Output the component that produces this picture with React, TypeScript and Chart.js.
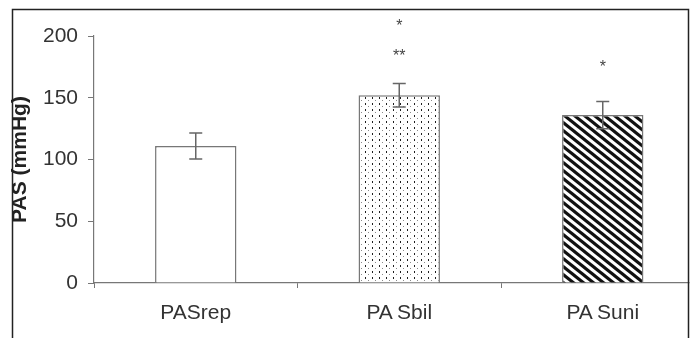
import React, { useEffect, useRef } from "react";
import { Chart, registerables } from "chart.js";

Chart.register(...registerables);

// ---- data ----
const categories = ["PASrep", "PA\u2009Sbil", "PA\u2009Suni"];
const meanValues = [111, 152, 136];
const errorValues = [10.5, 9.5, 11];
const yTickValues = [0, 50, 100, 150, 200];
const yAxisTitle = "PAS (mmHg)";
const sigCategoryIndex = [1, 1, 2];
const sigTexts = ["*", "**", "*"];
const sigValues = [211, 187, 178];

const FONT = "'Liberation Sans', Arial, Helvetica, sans-serif";

function makeDotPattern(): CanvasPattern | string {
  const c = document.createElement("canvas");
  c.width = 7;
  c.height = 6;
  const g = c.getContext("2d");
  if (!g) return "#fff";
  g.fillStyle = "#fff";
  g.fillRect(0, 0, 7, 6);
  g.fillStyle = "#1e1e1e";
  g.fillRect(1, 1, 1, 2);
  g.fillStyle = "#8a8a8a";
  g.fillRect(4, 4, 1, 1);
  return g.createPattern(c, "repeat") || "#fff";
}

function makeStripePattern(): CanvasPattern | string {
  const w = 10;
  const h = 8;
  const c = document.createElement("canvas");
  c.width = w;
  c.height = h;
  const g = c.getContext("2d");
  if (!g) return "#000";
  g.fillStyle = "#fff";
  g.fillRect(0, 0, w, h);
  g.strokeStyle = "#111";
  g.lineWidth = 3.2;
  for (const off of [-w, 0, w]) {
    g.beginPath();
    g.moveTo(off - 2 * w, -2 * h);
    g.lineTo(off + 3 * w, 3 * h);
    g.stroke();
  }
  return g.createPattern(c, "repeat") || "#000";
}

const overlayPlugin = {
  id: "overlayMarks",
  afterDatasetsDraw(chart: any) {
    const ctx = chart.ctx;
    const yScale = chart.scales.y;
    const meta = chart.getDatasetMeta(0);
    ctx.save();
    ctx.strokeStyle = "#666";
    ctx.lineWidth = 1.5;
    meanValues.forEach((v, i) => {
      const cx = meta.data[i].x;
      const top = yScale.getPixelForValue(v + errorValues[i]);
      const bot = yScale.getPixelForValue(v - errorValues[i]);
      ctx.beginPath();
      ctx.moveTo(cx, top);
      ctx.lineTo(cx, bot);
      ctx.moveTo(cx - 6.5, top);
      ctx.lineTo(cx + 6.5, top);
      ctx.moveTo(cx - 6.5, bot);
      ctx.lineTo(cx + 6.5, bot);
      ctx.stroke();
    });
    ctx.fillStyle = "#444";
    ctx.font = `16px ${FONT}`;
    ctx.textAlign = "center";
    ctx.textBaseline = "alphabetic";
    sigTexts.forEach((t, k) => {
      const cx = meta.data[sigCategoryIndex[k]].x;
      const cy = yScale.getPixelForValue(sigValues[k]);
      ctx.fillText(t, cx, cy + 8.5);
    });
    ctx.restore();
  },
  afterDraw(chart: any) {
    const ctx = chart.ctx;
    ctx.save();
    ctx.fillStyle = "#fff";
    ctx.fillRect(689.5, 0, chart.width, chart.height);
    ctx.strokeStyle = "#222";
    ctx.lineWidth = 1.5;
    ctx.beginPath();
    ctx.moveTo(12.5, chart.height + 2);
    ctx.lineTo(12.5, 9.5);
    ctx.lineTo(688.5, 9.5);
    ctx.lineTo(688.5, chart.height + 2);
    ctx.stroke();
    ctx.restore();
  },
};

export default function App() {
  const ref = useRef<HTMLCanvasElement | null>(null);

  useEffect(() => {
    if (!ref.current) return;
    const chart = new Chart(ref.current, {
      type: "bar",
      data: {
        labels: categories,
        datasets: [
          {
            data: meanValues,
            backgroundColor: ["#ffffff", makeDotPattern(), makeStripePattern()] as any,
            borderColor: "#777",
            borderWidth: 1.5,
            categoryPercentage: 1,
            barPercentage: 0.4,
          },
        ],
      },
      options: {
        animation: false,
        responsive: false,
        devicePixelRatio: 1,
        layout: { padding: { left: 8, top: 36, right: 1.5, bottom: 0 } },
        plugins: {
          legend: { display: false },
          tooltip: { enabled: false },
        },
        scales: {
          x: {
            grid: {
              offset: true,
              drawOnChartArea: false,
              drawTicks: true,
              tickLength: 5,
              color: "#777",
            },
            border: { color: "#777", width: 1.2 },
            ticks: {
              color: "#333",
              font: { family: FONT, size: 21 },
              padding: 13,
            },
            afterFit(scale: any) {
              scale.height = 55;
            },
          },
          y: {
            min: yTickValues[0],
            max: yTickValues[yTickValues.length - 1],
            afterBuildTicks(scale: any) {
              scale.ticks = yTickValues.map((v) => ({ value: v }));
            },
            grid: {
              drawOnChartArea: false,
              drawTicks: true,
              tickLength: 6,
              color: "#777",
            },
            border: { color: "#777", width: 1.2 },
            ticks: {
              color: "#333",
              font: { family: FONT, size: 21 },
              padding: 10,
            },
            title: {
              display: true,
              text: yAxisTitle,
              color: "#222",
              font: { family: FONT, size: 21, weight: "bold" },
              padding: { top: 0, bottom: 0 },
            },
            afterFit(scale: any) {
              scale.width = 86;
            },
          },
        },
      },
      plugins: [overlayPlugin],
    });
    return () => chart.destroy();
  }, []);

  return (
    <div
      style={{
        position: "fixed",
        left: 0,
        top: 0,
        width: 692,
        height: 338,
        overflow: "hidden",
        background: "#fff",
      }}
    >
      <canvas ref={ref} width={706} height={338} style={{ width: 706, height: 338, display: "block" }} />
    </div>
  );
}
